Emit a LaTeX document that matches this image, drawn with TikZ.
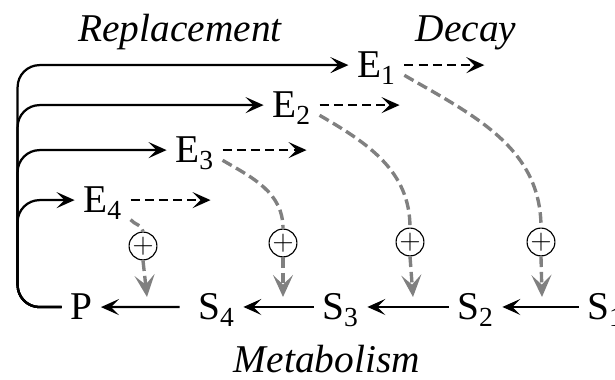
\documentclass[tikz,border=0pt]{standalone}
\usepackage{fontspec}
\setmainfont{Liberation Serif}
\usepackage{tikz}
\usetikzlibrary{arrows.meta}
\tikzset{
  sp/.style={inner sep=6pt,text depth=0pt,anchor=base west},
  lbl/.style={anchor=base,font=\fontsize{28}{32}\selectfont\itshape},
  rep/.style={line width=1.6pt,-{Stealth[length=4.5mm,width=4mm,inset=2mm]},rounded corners=0.55cm},
  met/.style={line width=1.6pt,-{Stealth[length=4.5mm,width=4mm,inset=2mm]}},
  dec/.style={met,dash pattern=on 6.5pt off 3.6pt},
  act/.style={gray,line width=2.4pt,dash pattern=on 7.5pt off 3.5pt},
  acthd/.style={act,-{Stealth[length=5.5mm,width=5mm,inset=2.4mm]}},
  pls/.style={circle,draw,fill=white,line width=0.8pt,minimum size=0.62cm,inner sep=0pt,font=\fontsize{20}{20}\selectfont}
}

\begin{document}
\begin{tikzpicture}[font=\fontsize{28}{32}\selectfont]
\useasboundingbox (0,0) rectangle (15.375,9.5);
\node[sp] (E1) at (8.71,7.55) {E\textsubscript{1}};
\node[sp] (E2) at (6.59,6.55) {E\textsubscript{2}};
\node[sp] (E3) at (4.165,5.425) {E\textsubscript{3}};
\node[sp] (E4) at (1.865,4.175) {E\textsubscript{4}};
\node[sp] (P) at (1.54,1.5) {P};
\node[sp] (S4) at (4.74,1.5) {S\textsubscript{4}};
\node[sp] (S3) at (7.84,1.5) {S\textsubscript{3}};
\node[sp] (S2) at (11.215,1.5) {S\textsubscript{2}};
\node[sp] (S1) at (14.465,1.5) {S\textsubscript{1}};
\node[lbl] (rl) at (4.5,8.45) {Replacement};
\node[lbl] (dl) at (11.65,8.45) {Decay};
\node[lbl] (ml) at (8.17,0.175) {Metabolism};

\coordinate (K) at ([xshift=-1.1cm]P.west);
\draw[rep] (P.west) -- (K) |- (E1.west);
\draw[rep] (P.west) -- (K) |- (E2.west);
\draw[rep] (P.west) -- (K) |- (E3.west);
\draw[rep] (P.west) -- (K) |- (E4.west);

\coordinate (D1) at ([xshift=2cm]E1.east); \draw[dec] (E1.east) -- (D1);
\coordinate (D2) at ([xshift=2cm]E2.east); \draw[dec] (E2.east) -- (D2);
\coordinate (D3) at ([xshift=2.1cm]E3.east); \draw[dec] (E3.east) -- (D3);
\coordinate (D4) at ([xshift=2cm]E4.east); \draw[dec] (E4.east) -- (D4);

\draw[met] (S1.west) -- (S2.east);
\draw[met] (S2.west) -- (S3.east);
\draw[met] (S3.west) -- (S4.east);
\draw[met,shorten <=0.25cm] (S4.west) -- (P.east);

\node[pls] (C1) at (13.525,3.45) {$+$};
\node[pls] (C2) at (10.25,3.45) {$+$};
\node[pls] (C3) at (7.075,3.425) {$+$};
\node[pls] (C4) at (3.575,3.35) {$+$};
\coordinate (T1) at (13.55,2.075);
\coordinate (T2) at (10.325,2.075);
\coordinate (T3) at (7.075,2.075);
\coordinate (T4) at (3.675,2.075);
\draw[act] (E1.-20) to[out=-30,in=90] (C1.north); \draw[acthd] (C1.south) -- (T1);
\draw[act] (E2.-20) to[out=-30,in=90] (C2.north); \draw[acthd] (C2.south) -- (T2);
\draw[act] (E3.-20) to[out=-30,in=90] (C3.north); \draw[acthd] (C3.south) -- (T3);
\draw[act] (E4.-35) to[out=-50,in=95] (C4.north); \draw[acthd] (C4.south) -- (T4);
\end{tikzpicture}
\end{document}
